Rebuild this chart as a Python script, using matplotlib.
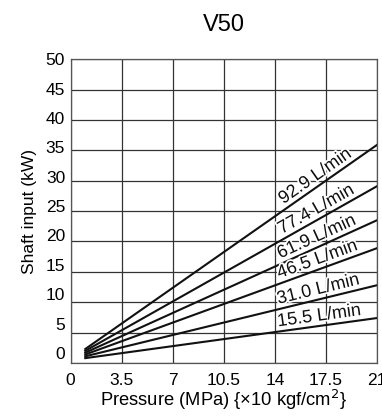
import numpy as np
import matplotlib
matplotlib.use('Agg')
import matplotlib.pyplot as plt
import matplotlib.patheffects as pe
from matplotlib.transforms import ScaledTranslation

plt.rcParams['font.family'] = ['Liberation Sans', 'DejaVu Sans']

flows = ['15.5 L/min', '31.0 L/min', '46.5 L/min', '61.9 L/min', '77.4 L/min', '92.9 L/min']
p_start = [1.0, 1.0, 1.0, 1.0, 1.0, 1.0]
p_end = [21, 21, 21, 21, 21, 21]
kw_start = [0.8, 1.1, 1.4, 1.7, 2.0, 2.3]
kw_end = [7.4, 12.8, 18.9, 23.5, 29.1, 35.9]
label_x = 17.1

xticks = [0, 3.5, 7, 10.5, 14, 17.5, 21]
xticklabels = ['0', '3.5', '7', '10.5', '14', '17.5', '21']
yticks = np.arange(0, 51, 5)

fig = plt.figure(figsize=(3.82, 4.17), dpi=100)
ax = fig.add_axes([0.185, 0.1295, 0.802, 0.7285])
ax.set_xlim(0, 21)
ax.set_ylim(0, 50)
ax.set_xticks(xticks)
ax.set_xticklabels(xticklabels)
ax.set_yticks(yticks)
ax.tick_params(length=0, labelsize=12.5)
ax.tick_params(axis='x', pad=7)
ax.tick_params(axis='y', pad=4)
ax.grid(True, color='#333333', lw=0.9)
ax.set_axisbelow(True)
for s in ax.spines.values():
    s.set_color('#555555')
    s.set_linewidth(0.9)

# y tick labels in the original drift slightly upward towards zero
for v, lab in zip(yticks, ax.get_yticklabels()):
    lab.set_transform(lab.get_transform() +
                      ScaledTranslation(0, (50 - v) / 50 * 0.1, fig.dpi_scale_trans))

ax.set_title('V50', fontsize=17, pad=20)
ax.set_xlabel('Pressure (MPa) {×10 kgf/cm$^2$}', fontsize=13.2, labelpad=0)
ax.set_ylabel('Shaft input (kW)', fontsize=12.5, labelpad=6)

for name, x0, x1, y0, y1 in zip(flows, p_start, p_end, kw_start, kw_end):
    ax.plot([x0, x1], [y0, y1], color='#111111', lw=1.5)
    slope = (y1 - y0) / (x1 - x0)
    ly = y0 + slope * (label_x - x0)
    a = ax.transData.transform([(x0, y0), (x1, y1)])
    ang = np.degrees(np.arctan2(a[1, 1] - a[0, 1], a[1, 0] - a[0, 0]))
    t = ax.text(label_x, ly + 0.2, name, rotation=ang, rotation_mode='anchor',
                ha='center', va='bottom', fontsize=13, color='#111111')
    t.set_path_effects([pe.withStroke(linewidth=2.5, foreground='white')])

fig.savefig('out.png', dpi=100)
